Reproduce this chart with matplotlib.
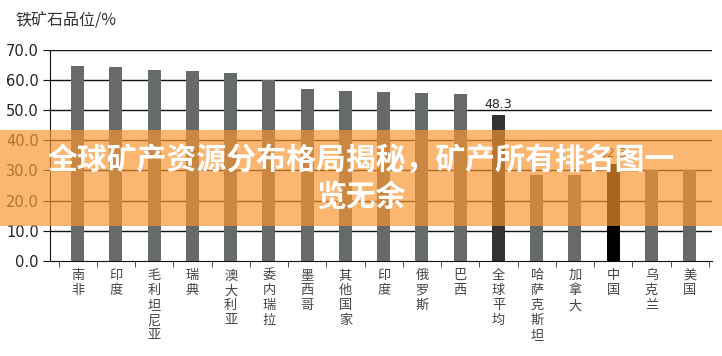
import numpy as np
from matplotlib import pyplot as plt
from matplotlib.patches import Rectangle

plt.rcParams['font.family'] = ['Noto Sans CJK SC', 'DejaVu Sans']

countries = ["南非", "印度", "毛利坦尼亚", "瑞典", "澳大利亚", "委内瑞拉", "墨西哥",
             "其他国家", "印度", "俄罗斯", "巴西", "全球平均", "哈萨克斯坦", "加拿大",
             "中国", "乌克兰", "美国"]
grade = [64.8, 64.4, 63.4, 63.1, 62.4, 60.0, 57.1, 56.4, 56.1, 55.8, 55.4,
         48.3, 28.5, 28.5, 32.3, 30.0, 30.0]
yticks = [0, 10, 20, 30, 40, 50, 60, 70]
labelled = ["全球平均", "中国"]
banner_text = "全球矿产资源分布格局揭秘，矿产所有排名图一\n览无余"

colors = []
for c in countries:
    if c == "全球平均":
        colors.append("#333333")
    elif c == "中国":
        colors.append("#000000")
    else:
        colors.append("#666a6b")

fig = plt.figure(figsize=(7.22, 3.56), dpi=100)
ax = fig.add_axes([0.069, 0.267, 0.917, 0.593])

x = np.arange(len(countries))
ax.bar(x, grade, width=0.34, color=colors, zorder=3)

for i, c in enumerate(countries):
    if c in labelled:
        ax.text(i, grade[i] + 1.3, "%.1f" % grade[i], ha="center", va="bottom",
                fontsize=9, color="#222222", family="DejaVu Sans", zorder=4)

ax.set_ylim(0, 70)
ax.set_xlim(-0.73, 16.58)
ax.set_yticks(yticks)
ax.set_yticklabels(["%.1f" % v for v in yticks], family="DejaVu Sans", fontsize=10.5, color="#222222")
for v in yticks[1:]:
    ax.axhline(v, color="#111111", lw=1, zorder=1)

ax.set_xticks(x)
ax.set_xticklabels(["\n".join(c) for c in countries], fontsize=9.5, color="#444444",
                   linespacing=1.2, va="top")
ax.set_xticks(np.arange(-0.5, 17, 1), minor=True)
ax.tick_params(axis="x", which="major", length=0, pad=6)
ax.tick_params(axis="x", which="minor", length=4, direction="out", color="#333333")
ax.tick_params(axis="y", length=5, direction="out", color="#111111", pad=3)

for s in ["top", "right"]:
    ax.spines[s].set_visible(False)
ax.spines["left"].set_color("#111111")
ax.spines["bottom"].set_color("#111111")

fig.text(0.021, 0.927, "铁矿石品位/%", fontsize=11.5, color="#333333")

# orange banner on top of the chart
fig.patches.append(Rectangle((0, 1 - 226 / 356), 1, 96 / 356, transform=fig.transFigure,
                             facecolor="#fa962f", alpha=0.68, zorder=10, lw=0))
fig.text(0.5, 1 - 178 / 356, banner_text, ha="center", va="center", fontsize=21.5,
         weight="black", color="white", linespacing=1.3, zorder=11)

fig.savefig("out.png", dpi=100)
